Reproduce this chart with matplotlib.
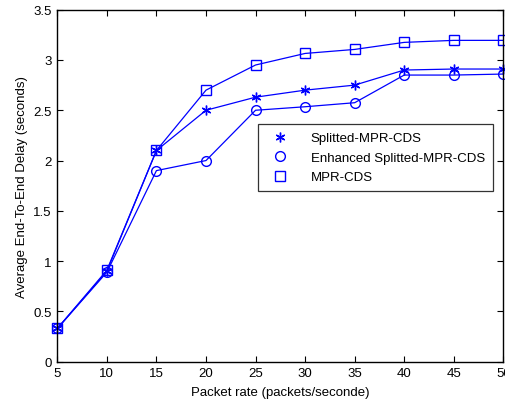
import matplotlib
matplotlib.use("Agg")
import matplotlib.pyplot as plt
from matplotlib.lines import Line2D

plt.rcParams['font.family'] = ['Liberation Sans', 'DejaVu Sans']

packet_rate = [5, 10, 15, 20, 25, 30, 35, 40, 45, 50]
splitted = [0.33, 0.90, 2.10, 2.50, 2.63, 2.70, 2.75, 2.90, 2.91, 2.91]
enhanced = [0.33, 0.89, 1.90, 2.00, 2.50, 2.535, 2.575, 2.85, 2.85, 2.86]
mpr_cds = [0.33, 0.91, 2.10, 2.70, 2.95, 3.065, 3.105, 3.175, 3.195, 3.195]
labels = ['Splitted-MPR-CDS', 'Enhanced Splitted-MPR-CDS', 'MPR-CDS']

blue = (0, 0, 1)
fig = plt.figure(figsize=(5.06, 4.02), dpi=100)
ax = fig.add_axes([0.1133, 0.0978, 0.8814, 0.8756])

# asterisk (6 arms), open circle, open square
series = [(splitted, (6, 2, 0), 7), (enhanced, 'o', 7), (mpr_cds, 's', 7)]
handles = []
for (vals, m, ms), lab in zip(series, labels):
    ax.plot(packet_rate, vals, color=blue, lw=0.9, marker=m, ms=ms,
            mfc='none', mec=blue, mew=1.0, clip_on=False)
    handles.append(Line2D([], [], color=blue, ls='none', marker=m, ms=ms,
                          mfc='none', mec=blue, mew=1.0))

ax.set_xlim(5, 50)
ax.set_ylim(0, 3.5)
ax.set_xticks(range(5, 51, 5))
ax.set_yticks([0, 0.5, 1, 1.5, 2, 2.5, 3, 3.5])
ax.set_yticklabels(['0', '0.5', '1', '1.5', '2', '2.5', '3', '3.5'])
ax.tick_params(direction='in', top=True, right=True, length=4, width=0.8,
               labelsize=9.5, colors='black', pad=4)
for s in ax.spines.values():
    s.set_linewidth(1.0)
ax.set_xlabel('Packet rate (packets/seconde)', fontsize=9.5, labelpad=5)
ax.set_ylabel('Average End-To-End Delay (seconds)', fontsize=9.5, labelpad=4)

leg = ax.legend(handles, labels, loc='upper left',
                bbox_to_anchor=((258 - 57.3) / 446, (362.7 - 125) / 352),
                fontsize=9.5, frameon=True, fancybox=False, edgecolor='black',
                borderpad=0.6, handlelength=2.2, handletextpad=1.2,
                labelspacing=0.55, borderaxespad=0)
leg.get_frame().set_linewidth(0.9)

fig.savefig('out.png', dpi=100)
